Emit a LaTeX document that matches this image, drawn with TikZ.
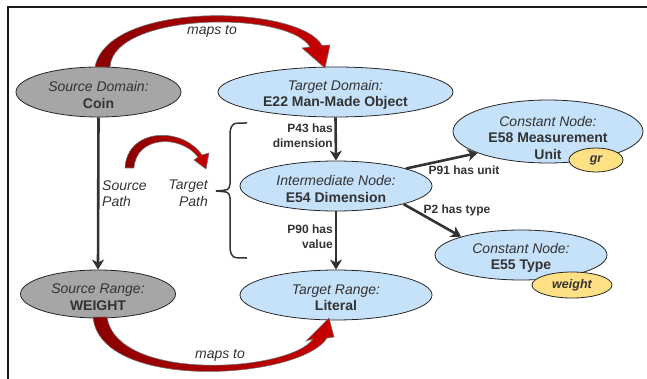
\documentclass[tikz,border=0pt]{standalone}
\usepackage{fontspec}
\setmainfont{Liberation Sans}
\usetikzlibrary{shapes.geometric,arrows.meta}
\definecolor{txt}{HTML}{333333}
\definecolor{sgray}{HTML}{A6A6A6}
\definecolor{lblue}{HTML}{C6E2FA}
\definecolor{lyel}{HTML}{FFE085}
\definecolor{dred}{HTML}{8A0000}
\definecolor{bred}{HTML}{C80000}
\begin{document}
\begin{tikzpicture}[x=1pt,y=-1pt,
  ell/.style={ellipse,draw=black!85,line width=0.8pt,inner sep=0pt},
  srcell/.style={ell,fill=sgray},
  tgtell/.style={ell,fill=lblue},
  valell/.style={ell,fill=lyel,text=txt,font=\fontsize{12.5}{15}\selectfont\bfseries\itshape},
  etext/.style={align=center,text=txt,inner sep=0pt,font=\fontsize{14}{16.5}\selectfont},
  elab/.style={text=txt,inner sep=0pt,font=\fontsize{12}{15}\selectfont\bfseries},
  plab/.style={text=txt,inner sep=0pt,font=\fontsize{14}{16.5}\selectfont\itshape},
  rel/.style={draw=txt,line width=2.6pt,-{Stealth[length=10pt,width=12pt,inset=3pt]}},
  bigarrow/.style={left color=dred,right color=bred,draw=black!55,line width=0.6pt}
]
\useasboundingbox (0,0) rectangle (647,379);
% frame
\draw[line width=2pt,draw=black!90] (8,379) -- (8,7) -- (647,7);

% ellipses
\node[srcell,minimum width=165pt,minimum height=50pt] (sd) at (98.5,92) {};
\node[etext] (sdt) at (98.5,95) {\textit{Source Domain:}\\\textbf{Coin}};
\node[srcell,minimum width=155pt,minimum height=48pt] (sr) at (98,294) {};
\node[etext] (srt) at (98,297) {\textit{Source Range:}\\\textbf{WEIGHT}};
\node[tgtell,minimum width=235pt,minimum height=50pt] (td) at (335.5,92) {};
\node[etext] (tdt) at (335.5,95) {\textit{Target Domain:}\\\textbf{E22 Man-Made Object}};
\node[tgtell,minimum width=192pt,minimum height=50pt] (in) at (336,186) {};
\node[etext] (int) at (336,189) {\textit{Intermediate Node:}\\\textbf{E54 Dimension}};
\node[tgtell,minimum width=192pt,minimum height=50pt] (tr) at (336,295) {};
\node[etext] (trt) at (336,298) {\textit{Target Range:}\\\textbf{Literal}};
\node[tgtell,minimum width=190pt,minimum height=63pt] (c58) at (548,131.5) {};
\node[etext] (c58t) at (548,137.5) {\textit{Constant Node:}\\\textbf{E58 Measurement}\\\textbf{Unit}};
\node[tgtell,minimum width=172pt,minimum height=50pt] (c55) at (521,255) {};
\node[etext] (c55t) at (521,258) {\textit{Constant Node:}\\\textbf{E55 Type}};
\node[valell,minimum width=54pt,minimum height=24pt] (gr) at (596,160) {gr};
\node[valell,minimum width=80pt,minimum height=26pt] (wt) at (572,285) {weight};

% relations
\draw[rel] (sd.south) -- (sr.north);
\draw[rel] (td.south) -- (in.north);
\draw[rel] (in.south) -- (tr.north);
\draw[rel] (in.14) -- (c58.197);
\draw[rel] (in.-15) -- (c55.163);

% edge labels
\node[elab,anchor=east,align=right] (l43) at (333,136) {P43 has\\dimension};
\node[elab,anchor=east,align=right] (l90) at (333,237) {P90 has\\value};
\node[elab] (l91) at (464,170) {P91 has unit};
\node[elab] (l2) at (457,210) {P2 has type};

% path labels
\node[plab,anchor=west,align=left] (spl) at (102,193.5) {Source\\Path};
\node[plab,anchor=east,align=right] (tpl) at (208,193.5) {Target\\Path};

% brace
\draw[draw=txt,line width=1.5pt] (247,123) .. controls (232,123) .. (230,132) -- (230,184)
  .. controls (229,190) .. (216,191) .. controls (229,192) .. (230,198) -- (230,249)
  .. controls (232,258) .. (247,258);

% maps-to arrows
\path[bigarrow] (110,67) .. controls (113,12) and (288,10) .. (310,47)
  -- (302,48) -- (325,68) -- (330,45) -- (322,45.5)
  .. controls (300,5) and (108,0) .. (95,67) -- cycle;
\node[plab] (m1) at (212,31) {maps to};

\path[bigarrow] (93,317) .. controls (100,392) and (300,380) .. (327,338)
  -- (334,337) -- (329,318) -- (306,341) -- (313,339)
  .. controls (290,372) and (117,383) .. (107,317) -- cycle;
\node[plab] (m2) at (220,355) {maps to};

\path[bigarrow] (125,168) .. controls (127,128) and (182,126) .. (202,155)
  -- (209,153) -- (206,169) -- (194,160) -- (198,157)
  .. controls (180,134) and (136,136) .. (134,168) -- cycle;
\end{tikzpicture}
\end{document}
